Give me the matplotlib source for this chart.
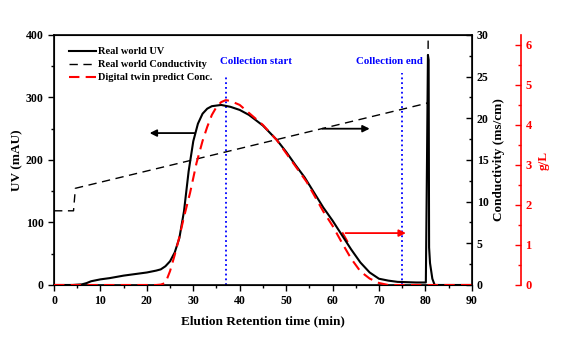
import matplotlib
matplotlib.use("Agg")
import matplotlib.pyplot as plt
from matplotlib.ticker import MultipleLocator

plt.rcParams['font.family'] = ['Liberation Serif', 'DejaVu Serif']
plt.rcParams['font.weight'] = 'bold'

# Real world UV (mAU)
uv_t = [0, 4, 6, 7, 8, 10, 12, 15, 18, 20, 22, 23, 24, 25, 26, 27, 28, 29, 30, 31, 32, 33, 34, 36,
        38, 40, 42, 45, 48, 50, 52, 54, 56, 58, 60, 62, 64, 66, 68, 70, 72, 74, 76, 78, 80.1,
        80.35, 80.55, 80.7, 80.8, 81.0, 81.5, 82, 90]
uv = [0, 0, 1, 3, 6, 9, 11, 15, 18, 20, 23, 25, 30, 38, 52, 75, 118, 182, 230, 258, 274, 282, 286, 288,
      285, 280, 272, 255, 232, 213, 192, 172, 148, 124, 103, 80, 57, 36, 20, 10, 7, 5, 4.5, 4, 4,
      200, 368, 360, 60, 35, 10, 0, 0]

# Real world conductivity (ms/cm)
cond_t = [0, 4.2, 4.6, 80.3, 80.55, 80.6]
cond = [8.9, 8.9, 11.6, 21.8, 22.0, 30.0]

# Digital twin predicted concentration (g/L)
pred_t = [0, 22, 23, 24, 25, 26, 27, 28, 29.3, 30.7, 32, 33, 34, 35, 36, 37, 38, 40, 42, 45, 48,
          52, 54.4, 58, 60, 62, 64, 66, 68, 70, 72, 90]
pred = [0, 0, 0.01, 0.05, 0.35, 0.75, 1.2, 1.7, 2.3, 3.05, 3.6, 3.95, 4.25, 4.45, 4.57, 4.62, 4.6,
        4.5, 4.3, 4.0, 3.62, 2.97, 2.58, 1.84, 1.48, 1.06, 0.66, 0.34, 0.16, 0.05, 0.0, 0.0]

collection_start = 37
collection_end = 75

fig = plt.figure(figsize=(5.61, 3.4), dpi=100)
ax = fig.add_axes([0.0963, 0.1618, 0.7447, 0.7355])
ax2 = ax.twinx()
ax3 = ax.twinx()
ax3.spines['right'].set_position(('axes', 1.117))

ax.plot(uv_t, uv, color='black', lw=1.5, label='Real world UV', zorder=5)
l2, = ax2.plot(cond_t, cond, color='black', lw=1.0, ls=(0, (6, 4)), label='Real world Conductivity')
l3, = ax3.plot(pred_t, pred, color='red', lw=1.5, ls=(0, (5, 3)), label='Digital twin predict Conc.')

ax.set_xlim(0, 90)
ax.set_ylim(0, 400)
ax2.set_ylim(0, 30)
ax3.set_ylim(0, 6.25)

ax.axvline(collection_start, ymin=0, ymax=334 / 400, color='blue', ls=':', lw=1.3)
ax.axvline(collection_end, ymin=0, ymax=339 / 400, color='blue', ls=':', lw=1.3)
ax.text(43.5, 357, 'Collection start', color='blue', fontsize=7.8, ha='center', va='center', fontweight='bold')
ax.text(72.2, 357, 'Collection end', color='blue', fontsize=7.8, ha='center', va='center', fontweight='bold')

ax.annotate('', xy=(20, 243), xytext=(30.9, 243),
            arrowprops=dict(arrowstyle='-|>', color='black', lw=1.3, mutation_scale=10))
ax.annotate('', xy=(68.6, 250), xytext=(57.2, 250),
            arrowprops=dict(arrowstyle='-|>', color='black', lw=1.3, mutation_scale=10))
ax.annotate('', xy=(76.4, 83), xytext=(62.2, 83),
            arrowprops=dict(arrowstyle='-|>', color='red', lw=1.3, mutation_scale=10))
ax.plot([62.2, 63.2], [83, 70], color='red', lw=1.3)

ax.xaxis.set_major_locator(MultipleLocator(10))
ax.xaxis.set_minor_locator(MultipleLocator(5))
ax.yaxis.set_major_locator(MultipleLocator(100))
ax.yaxis.set_minor_locator(MultipleLocator(50))
ax2.yaxis.set_major_locator(MultipleLocator(5))
ax2.yaxis.set_minor_locator(MultipleLocator(2.5))
ax3.yaxis.set_major_locator(MultipleLocator(1))
ax3.yaxis.set_minor_locator(MultipleLocator(0.5))

ax.tick_params(axis='both', which='major', labelsize=8.5, length=4, direction='out', width=1)
ax.tick_params(axis='both', which='minor', length=2, direction='out', width=1)
ax2.tick_params(axis='y', which='major', labelsize=8.5, length=4, direction='in', width=1)
ax2.tick_params(axis='y', which='minor', length=2, direction='in', width=1)
ax3.tick_params(axis='y', which='major', labelsize=9, length=4, direction='in', width=1,
                colors='red')
ax3.tick_params(axis='y', which='minor', length=2, direction='in', width=1, colors='red')
ax3.spines['right'].set_color('red')
ax3.spines['right'].set_linewidth(1.2)
for s in ['top', 'left', 'bottom']:
    ax3.spines[s].set_visible(False)
for s in ax.spines.values():
    s.set_linewidth(1.2)

ax.set_xlabel('Elution Retention time (min)', fontsize=9.5, fontweight='bold', labelpad=6)
ax.set_ylabel('UV (mAU)', fontsize=9.5, fontweight='bold', labelpad=2)
ax2.set_ylabel('Conductivity (ms/cm)', fontsize=9.5, fontweight='bold', labelpad=3)
ax3.set_ylabel('g/L', fontsize=9.5, fontweight='bold', color='red', labelpad=4)

h1, lab1 = ax.get_legend_handles_labels()
ax.legend(h1 + [l2, l3], lab1 + [l2.get_label(), l3.get_label()], loc='upper left',
          frameon=False, fontsize=7.5, handlelength=2.6, handletextpad=0.2, labelspacing=0.35,
          borderaxespad=0.4, bbox_to_anchor=(0.015, 0.985))

fig.savefig('out.png', dpi=100)
